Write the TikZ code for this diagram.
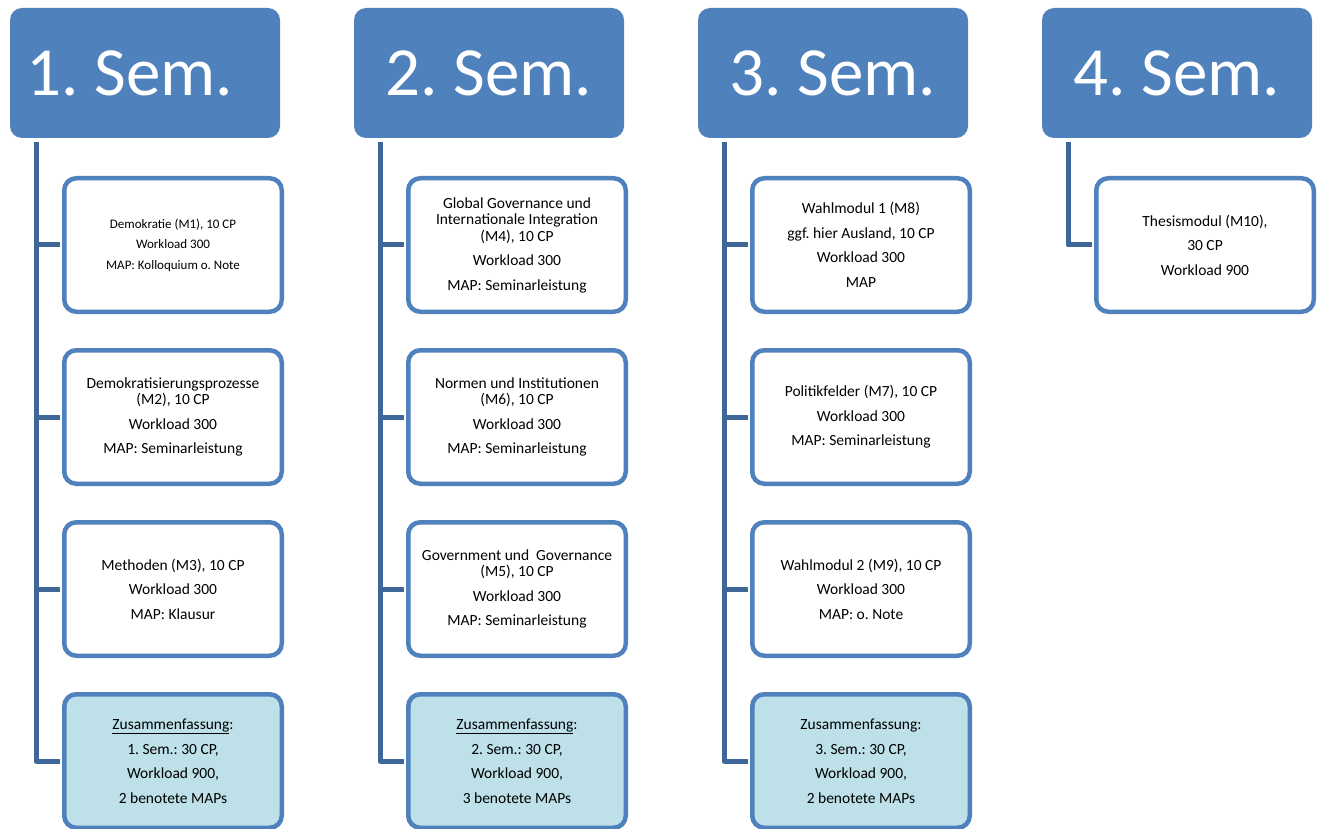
\documentclass[tikz,border=0pt]{standalone}
\usepackage{fontspec}
\setmainfont{Carlito}
\frenchspacing
\definecolor{semblue}{HTML}{4F81BD}
\definecolor{linkblue}{HTML}{3D6799}
\definecolor{sumfill}{HTML}{BDE0E9}

\begin{document}
\begin{tikzpicture}[x=1pt,y=-1pt,
    sem/.style={fill=semblue,rounded corners=12pt,minimum width=270pt,minimum height=130pt,inner sep=0pt,text=white,font=\fontsize{69}{72}\selectfont},
    modul/.style={draw=semblue,line width=4.5pt,rounded corners=12pt,fill=white,minimum width=217.5pt,minimum height=133.5pt,inner sep=2pt,align=center,font=\fontsize{15.5}{16.5}\selectfont},
    summe/.style={modul,fill=sumfill},
    ast/.style={draw=linkblue,line width=5pt,line join=round,shorten >=2pt}]
  \useasboundingbox (0,0) rectangle (1320,829);
  % Semesterkoepfe
  \foreach \i/\x/\s in {1/145/-30,2/489/0,3/833/0,4/1177/0}{
    \node[sem] (h\i) at (\x,73) {\hspace*{\s pt}\i. Sem.};
    \coordinate (t\i) at (\x-109,142);}
  % 1. Semester
  \node[modul,font=\fontsize{13}{14}\selectfont] (m1a) at (173,245) {Demokratie (M1), 10 CP\\[6.5pt]Workload 300\\[6.5pt]MAP: Kolloquium o. Note};
  \node[modul] (m1b) at (173,417) {Demokratisierungsprozesse\\(M2), 10 CP\\[8pt]Workload 300\\[8pt]MAP: Seminarleistung};
  \node[modul] (m1c) at (173,589) {Methoden (M3), 10 CP\\[8pt]Workload 300\\[8pt]MAP: Klausur};
  \node[summe] (s1) at (173,761) {\underline{Zusammenfassung}:\\[8pt]1. Sem.: 30 CP,\\[8pt]Workload 900,\\[8pt]2 benotete MAPs};
  % 2. Semester
  \node[modul] (m2a) at (517,245) {Global Governance und\\Internationale Integration\\(M4), 10 CP\\[8pt]Workload 300\\[8pt]MAP: Seminarleistung};
  \node[modul] (m2b) at (517,417) {Normen und Institutionen\\(M6), 10 CP\\[8pt]Workload 300\\[8pt]MAP: Seminarleistung};
  \node[modul] (m2c) at (517,589) {Government und\ \ Governance\\(M5), 10 CP\\[8pt]Workload 300\\[8pt]MAP: Seminarleistung};
  \node[summe] (s2) at (517,761) {\underline{Zusammenfassung}:\\[8pt]2. Sem.: 30 CP,\\[8pt]Workload 900,\\[8pt]3 benotete MAPs};
  % 3. Semester
  \node[modul] (m3a) at (861,245) {Wahlmodul 1 (M8)\\[8pt]ggf. hier Ausland, 10 CP\\[8pt]Workload 300\\[8pt]MAP};
  \node[modul] (m3b) at (861,417) {Politikfelder (M7), 10 CP\\[8pt]Workload 300\\[8pt]MAP: Seminarleistung};
  \node[modul] (m3c) at (861,589) {Wahlmodul 2 (M9), 10 CP\\[8pt]Workload 300\\[8pt]MAP: o. Note};
  \node[summe] (s3) at (861,761) {Zusammenfassung:\\[8pt]3. Sem.: 30 CP,\\[8pt]Workload 900,\\[8pt]2 benotete MAPs};
  % 4. Semester
  \node[modul] (m4a) at (1205,245) {Thesismodul (M10),\\[8pt]30 CP\\[8pt]Workload 900};
  % Verbindungen
  \foreach \i in {1,2,3}{
    \draw[ast] (t\i) |- (s\i.west);
    \foreach \m in {a,b,c}
      \draw[ast] (t\i |- m\i\m.west) -- (m\i\m.west);}
  \draw[ast] (t4) |- (m4a.west);
\end{tikzpicture}
\end{document}
